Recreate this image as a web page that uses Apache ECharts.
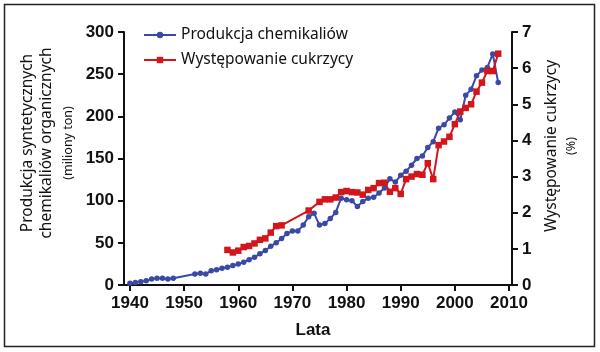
<!DOCTYPE html>
<html>
<head>
<meta charset="utf-8">
<script src="https://cdn.jsdelivr.net/npm/echarts@6/dist/echarts.min.js"></script>
<style>
  html, body { margin: 0; padding: 0; background: #fff; }
  #chart { width: 600px; height: 352px; }
</style>
</head>
<body>
<div id="chart"></div>
<script>
// produkcja chemikaliów (miliony ton)
const chemYears = [1940, 1941, 1942, 1943, 1944, 1945, 1946, 1947, 1948,
  1952, 1953, 1954, 1955, 1956, 1957, 1958, 1959, 1960, 1961, 1962, 1963, 1964,
  1965, 1966, 1967, 1968, 1969, 1970, 1971, 1972, 1973, 1974, 1975, 1976, 1977,
  1978, 1979, 1980, 1981, 1982, 1983, 1984, 1985, 1986, 1987, 1988, 1989, 1990,
  1991, 1992, 1993, 1994, 1995, 1996, 1997, 1998, 1999, 2000, 2001, 2002, 2003,
  2004, 2005, 2006, 2007, 2008]
const chemValues = [2, 3, 4, 5, 7, 8, 8, 7, 8,
  13, 14, 13, 17, 18, 20, 21, 23, 25, 27, 30, 33, 37,
  41, 46, 50, 55, 61, 64, 64, 71, 81, 85, 71, 73, 79,
  86, 103, 101, 100, 93, 99, 103, 104, 109, 115, 126, 122, 130,
  135, 142, 150, 153, 163, 170, 186, 190, 198, 205, 196, 225, 232,
  248, 255, 258, 274, 240]

// występowanie cukrzycy (%)
const diabYears = [1958, 1959, 1960, 1961, 1962, 1963, 1964, 1965, 1966, 1967,
  1968, 1973, 1975, 1976, 1977, 1978, 1979, 1980, 1981, 1982, 1983, 1984, 1985,
  1986, 1987, 1988, 1989, 1990, 1991, 1992, 1993, 1994, 1995, 1996, 1997, 1998,
  1999, 2000, 2001, 2002, 2003, 2004, 2005, 2006, 2007, 2008]
const diabValues = [0.97, 0.90, 0.95, 1.05, 1.08, 1.15, 1.25, 1.29, 1.45, 1.63,
  1.65, 2.06, 2.30, 2.37, 2.37, 2.42, 2.57, 2.60, 2.57, 2.56, 2.50, 2.63, 2.68,
  2.82, 2.83, 2.58, 2.68, 2.52, 2.93, 3.00, 3.07, 3.05, 3.37, 2.93, 3.87, 3.97,
  4.10, 4.45, 4.80, 4.90, 5.00, 5.35, 5.60, 5.92, 5.92, 6.40]

const xTicks = [1940, 1950, 1960, 1970, 1980, 1990, 2000, 2010]

const BLUE = '#3a49a3'
const RED = '#d3151c'
const tickFont = { color: '#111', fontFamily: 'Liberation Sans', fontWeight: 'bold', fontSize: 17 }
const axisLine = { show: true, lineStyle: { color: '#111', width: 2 } }
const axisTick = { show: true, length: 6, lineStyle: { color: '#111', width: 2 } }
const titleFont = { fontFamily: 'Noto Sans', fontSize: 15.5, fill: '#111', align: 'center', verticalAlign: 'middle' }
const subFont = { fontFamily: 'Noto Sans', fontSize: 12.5, fill: '#111', align: 'center', verticalAlign: 'middle' }

const chart = echarts.init(document.getElementById('chart'))
chart.setOption({
  animation: false,
  grid: { left: 124, right: 88, top: 32, bottom: 67 },
  legend: {
    orient: 'vertical',
    left: 138,
    top: 22,
    itemWidth: 32,
    itemHeight: 8,
    itemGap: 9,
    textStyle: { fontFamily: 'Noto Sans', fontSize: 15.5, color: '#111' },
    data: ['Produkcja chemikaliów', 'Występowanie cukrzycy']
  },
  xAxis: {
    type: 'value',
    min: 1938.9,
    max: 2010.55,
    splitLine: { show: false },
    axisLine: axisLine,
    axisTick: Object.assign({ customValues: xTicks }, axisTick),
    axisLabel: Object.assign({ customValues: xTicks, margin: 10, formatter: v => String(v) }, tickFont)
  },
  yAxis: [{
    type: 'value',
    min: 0,
    max: 300,
    interval: 50,
    splitLine: { show: false },
    axisLine: axisLine,
    axisTick: axisTick,
    axisLabel: Object.assign({ margin: 10 }, tickFont)
  }, {
    type: 'value',
    min: 0,
    max: 7,
    interval: 1,
    position: 'right',
    splitLine: { show: false },
    axisLine: axisLine,
    axisTick: axisTick,
    axisLabel: Object.assign({ margin: 10 }, tickFont)
  }],
  series: [{
    name: 'Produkcja chemikaliów',
    type: 'line',
    yAxisIndex: 0,
    data: chemYears.map((y, i) => [y, chemValues[i]]),
    symbol: 'circle',
    symbolSize: 5.5,
    itemStyle: { color: BLUE },
    lineStyle: { color: BLUE, width: 2 }
  }, {
    name: 'Występowanie cukrzycy',
    type: 'line',
    yAxisIndex: 1,
    data: diabYears.map((y, i) => [y, diabValues[i]]),
    symbol: 'rect',
    symbolSize: 6.5,
    itemStyle: { color: RED },
    lineStyle: { color: RED, width: 2 }
  }],
  graphic: [
    {
      type: 'rect',
      shape: { x: 4.5, y: 4.5, width: 590, height: 342 },
      style: { fill: 'none', stroke: '#222', lineWidth: 1.5 },
      silent: true
    },
    { type: 'text', x: 28, y: 143, rotation: Math.PI / 2, style: Object.assign({ text: 'Produkcja syntetycznych' }, titleFont) },
    { type: 'text', x: 47, y: 143, rotation: Math.PI / 2, style: Object.assign({ text: 'chemikaliów organicznych' }, titleFont) },
    { type: 'text', x: 68, y: 143, rotation: Math.PI / 2, style: Object.assign({ text: '(miliony ton)' }, subFont) },
    { type: 'text', x: 552, y: 146, rotation: Math.PI / 2, style: Object.assign({ text: 'Występowanie cukrzycy' }, titleFont) },
    { type: 'text', x: 571, y: 146, rotation: Math.PI / 2, style: Object.assign({ text: '(%)' }, subFont) },
    {
      type: 'text', x: 313, y: 330,
      style: { text: 'Lata', fontFamily: 'Liberation Sans', fontWeight: 'bold', fontSize: 17, fill: '#111', align: 'center', verticalAlign: 'middle' }
    }
  ]
})
</script>
</body>
</html>
